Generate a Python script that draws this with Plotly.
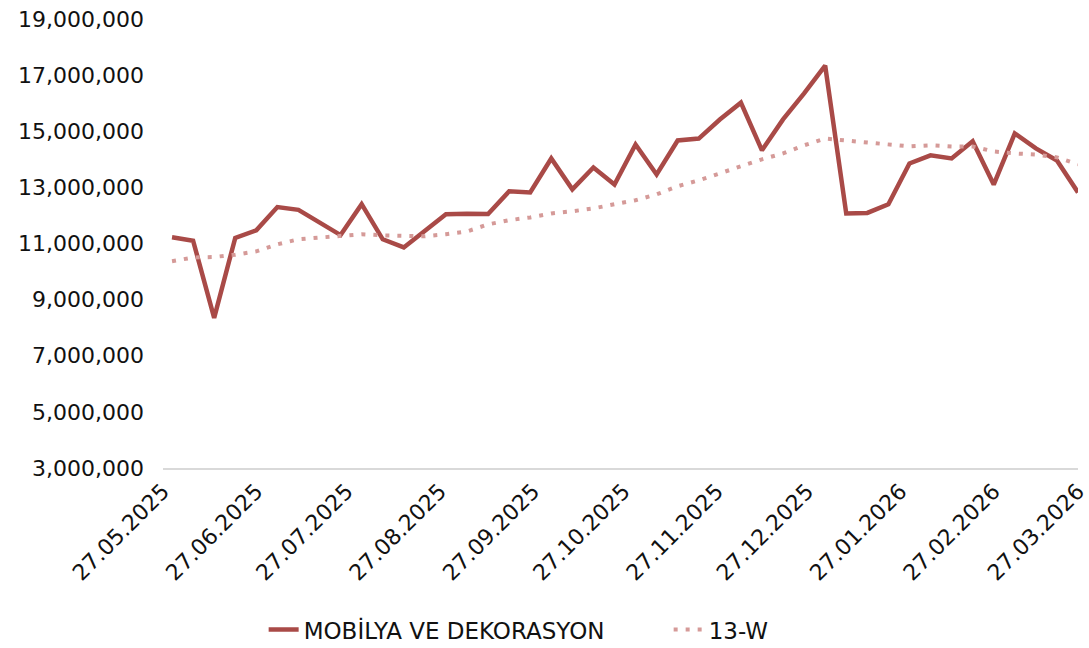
import plotly.graph_objects as go
import pandas as pd

dates = pd.date_range("2025-05-30", periods=44, freq="7D")

mobilya = [11.22, 11.10, 8.35, 11.20, 11.47, 12.30, 12.20, 11.75, 11.30, 12.40,
           11.15, 10.86, 11.43, 12.04, 12.06, 12.05, 12.86, 12.82, 14.03, 12.93,
           13.71, 13.10, 14.53, 13.46, 14.67, 14.74, 15.42, 16.02, 14.32, 15.42,
           16.35, 17.34, 12.07, 12.09, 12.40, 13.85, 14.14, 14.03, 14.64, 13.10,
           14.92, 14.39, 13.96, 12.82]
w13 = [10.37, 10.50, 10.52, 10.60, 10.72, 10.97, 11.15, 11.22, 11.29, 11.33,
       11.29, 11.26, 11.26, 11.33, 11.43, 11.68, 11.83, 11.93, 12.07, 12.15,
       12.25, 12.40, 12.54, 12.75, 13.04, 13.25, 13.50, 13.75, 14.00, 14.21,
       14.50, 14.74, 14.67, 14.60, 14.50, 14.46, 14.50, 14.46, 14.46, 14.28,
       14.21, 14.17, 14.07, 13.82]
mobilya = [v * 1e6 for v in mobilya]
w13 = [v * 1e6 for v in w13]

tick_dates = ["2025-05-27", "2025-06-27", "2025-07-27", "2025-08-27", "2025-09-27",
              "2025-10-27", "2025-11-27", "2025-12-27", "2026-01-27", "2026-02-27",
              "2026-03-27"]
tick_labels = ["27.05.2025", "27.06.2025", "27.07.2025", "27.08.2025", "27.09.2025",
               "27.10.2025", "27.11.2025", "27.12.2025", "27.01.2026", "27.02.2026",
               "27.03.2026"]

FONT = "DejaVu Sans"
fig = go.Figure()
fig.add_trace(go.Scatter(x=dates, y=mobilya, mode="lines", name="MOBİLYA VE DEKORASYON",
                         line=dict(color="#A94A47", width=4.5)))
fig.add_trace(go.Scatter(x=dates, y=w13, mode="lines", name="13-W",
                         line=dict(color="#D59A98", width=4, dash="4px,8px")))

fig.update_layout(
    width=1089, height=648,
    margin=dict(l=163, r=11, t=19, b=180, autoexpand=False),
    paper_bgcolor="white", plot_bgcolor="white",
    font=dict(family=FONT, size=22, color="#111111"),
    showlegend=True,
    legend=dict(orientation="h", x=0.11, xanchor="left", y=-0.36, yanchor="middle",
                font=dict(size=23), entrywidth=360),
)
fig.update_xaxes(
    range=["2025-05-27", "2026-03-27"],
    tickmode="array", tickvals=tick_dates, ticktext=tick_labels, tickangle=-45,
    showgrid=False, showline=True, linecolor="#D9D9D9", linewidth=1.5,
    ticks="", zeroline=False, tickfont=dict(size=22), automargin=False,
    ticklabeloverflow="allow",
)
fig.update_yaxes(
    range=[3e6, 19e6], dtick=2e6, tick0=3e6, tickformat=",d",
    showgrid=False, showline=False, zeroline=False, ticks="",
    tickfont=dict(size=22), automargin=False, ticklabelstandoff=18,
)
fig.write_html("out.html", config={"displayModeBar": False},
               post_script="document.body.style.margin='0px';document.body.style.overflow='hidden';")
